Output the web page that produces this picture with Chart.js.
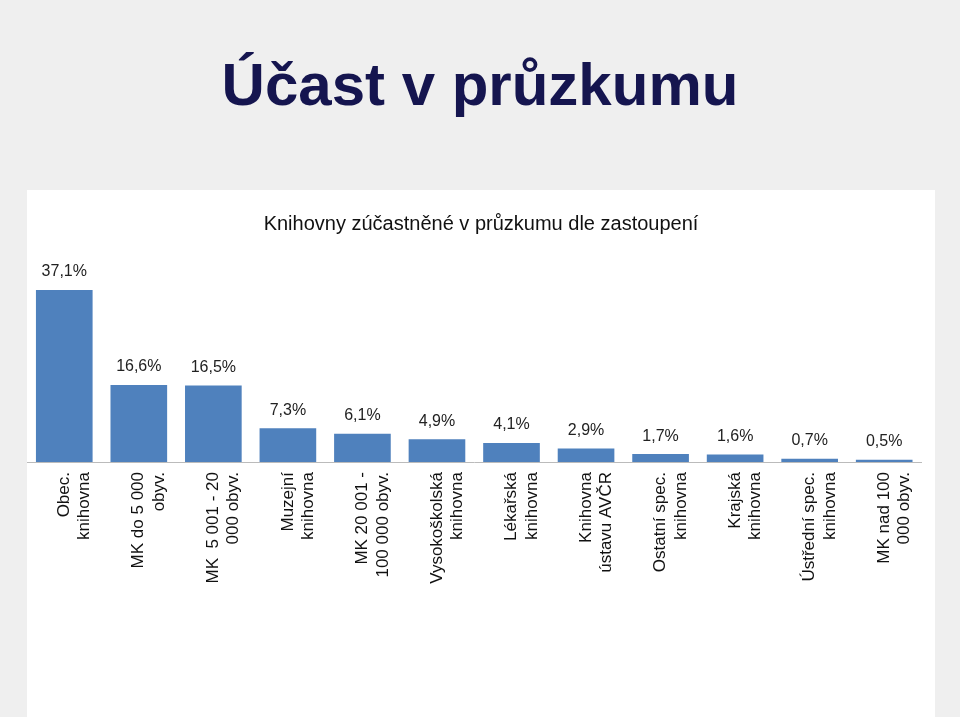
<!DOCTYPE html>
<html>
<head>
<meta charset="utf-8">
<script src="https://cdn.jsdelivr.net/npm/chart.js@4"></script>
<style>
  body { margin: 0; width: 960px; height: 717px; background: #efefef; font-family: "Liberation Sans", Arial, sans-serif; position: relative; overflow: hidden; }
  h1 { position: absolute; left: 0; top: 50px; width: 960px; margin: 0; text-align: center; font-size: 60px; font-weight: bold; color: #15154f; }
  #box { position: absolute; left: 27px; top: 190px; width: 908px; height: 527px; background: #fff; }
</style>
</head>
<body>
<h1>Účast v průzkumu</h1>
<div id="box"><canvas id="c"></canvas></div>
<script>
const categories = [
  ["Obec.", "knihovna"],
  ["MK do 5 000", "obyv."],
  ["MK  5 001 - 20", "000 obyv."],
  ["Muzejní", "knihovna"],
  ["MK 20 001 -", "100 000 obyv."],
  ["Vysokoškolská", "knihovna"],
  ["Lékařská", "knihovna"],
  ["Knihovna", "ústavu AVČR"],
  ["Ostatní spec.", "knihovna"],
  ["Krajská", "knihovna"],
  ["Ústřední spec.", "knihovna"],
  ["MK nad 100", "000 obyv."]
];
const shares = [37.1, 16.6, 16.5, 7.3, 6.1, 4.9, 4.1, 2.9, 1.7, 1.6, 0.7, 0.5];

const valueLabels = {
  id: "valueLabels",
  afterDatasetsDraw(chart) {
    const ctx = chart.ctx;
    ctx.save();
    ctx.font = "16px 'Liberation Sans', Arial, sans-serif";
    ctx.fillStyle = "#222";
    ctx.textAlign = "center";
    ctx.textBaseline = "bottom";
    chart.getDatasetMeta(0).data.forEach((bar, i) => {
      ctx.fillText(shares[i].toFixed(1).replace(".", ",") + "%", bar.x, bar.y - 10);
    });
    ctx.restore();
  }
};

new Chart(document.getElementById("c"), {
  type: "bar",
  data: {
    labels: categories,
    datasets: [{ data: shares, backgroundColor: "#4f81bd", barPercentage: 0.76, categoryPercentage: 1 }]
  },
  options: {
    responsive: true,
    maintainAspectRatio: false,
    animation: false,
    plugins: {
      legend: { display: false },
      tooltip: { enabled: false },
      title: {
        display: true,
        text: "Knihovny zúčastněné v průzkumu dle zastoupení",
        color: "#111",
        font: { size: 20, weight: "normal", family: "'Liberation Sans Narrow', 'Liberation Sans', Arial" },
        padding: { top: 22, bottom: 8 }
      }
    },
    scales: {
      y: { display: false, min: 0, max: 47 },
      x: {
        grid: { display: false, drawTicks: false },
        border: { color: "#bbb" },
        afterFit(scale) { scale.height = 255; },
        ticks: {
          minRotation: 90, maxRotation: 90, autoSkip: false, padding: 10,
          color: "#111",
          font: { size: 17, family: "'Liberation Sans', Arial" }
        }
      }
    }
  },
  plugins: [valueLabels]
});
</script>
</body>
</html>
